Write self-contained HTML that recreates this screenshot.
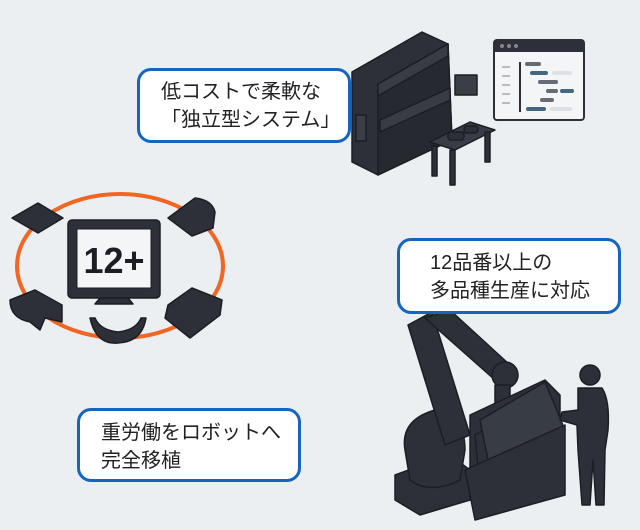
<!DOCTYPE html>
<html><head><meta charset="utf-8"><style>
html,body{margin:0;padding:0}
body{width:640px;height:530px;background:#eceff2;position:relative;overflow:hidden;font-family:"Liberation Sans","Noto Sans CJK JP",sans-serif}
.box{position:absolute;background:#fff;border:3px solid #1565c0;border-radius:14px;box-sizing:border-box;font-size:20px;color:#222;line-height:28px}
svg{position:absolute;left:0;top:0}
</style></head><body>
<svg width="640" height="530" viewBox="0 0 640 530">
<g fill="#2d3038" stroke="#1c1e24" stroke-width="1.5" stroke-linejoin="round">
<!-- machine -->
<polygon points="352,72 422,32 448,44 452,140 378,175 352,162"/>
<polygon points="378,84 448,44 452,140 378,175" fill="#262930"/>
<polygon points="378,84 448,44 448,56 378,96" fill="#383c45"/>
<polygon points="380,120 450,88 450,100 380,132" fill="#383c45"/>
<rect x="356" y="115" width="10" height="26" fill="#3a3e47"/>
<rect x="455" y="75" width="22" height="20" fill="#3a3e47"/>
<!-- table -->
<polygon points="430,142 470,122 495,130 455,150" fill="#383c45"/>
<rect x="432" y="146" width="5" height="30"/><rect x="450" y="150" width="5" height="35"/><rect x="485" y="132" width="5" height="30"/>
<rect x="448" y="132" width="16" height="8" rx="3"/><rect x="464" y="126" width="14" height="7" rx="3"/>
</g>
<!-- window -->
<rect x="494" y="40" width="90" height="80" rx="3" fill="#f4f5f7" stroke="#2d3038" stroke-width="2"/>
<rect x="494" y="40" width="90" height="12" fill="#2d3038"/>
<circle cx="502" cy="46" r="2" fill="#888"/><circle cx="509" cy="46" r="2" fill="#888"/><circle cx="516" cy="46" r="2" fill="#888"/>
<rect x="519" y="62" width="2" height="50" fill="#2d3038"/>
<g fill="#bbb"><rect x="502" y="66" width="8" height="2"/><rect x="502" y="75" width="8" height="2"/><rect x="502" y="84" width="8" height="2"/><rect x="502" y="93" width="8" height="2"/><rect x="502" y="102" width="8" height="2"/></g>
<rect x="525" y="62" width="16" height="4" rx="2" fill="#666b75"/>
<rect x="530" y="71" width="18" height="4" rx="2" fill="#44677f"/><rect x="552" y="71" width="20" height="4" rx="2" fill="#dde1e6"/>
<rect x="538" y="80" width="20" height="4" rx="2" fill="#666b75"/>
<rect x="546" y="89" width="12" height="4" rx="2" fill="#666b75"/><rect x="560" y="89" width="14" height="4" rx="2" fill="#44677f"/>
<rect x="540" y="98" width="14" height="4" rx="2" fill="#666b75"/>
<rect x="526" y="107" width="20" height="4" rx="2" fill="#44677f"/><rect x="550" y="107" width="22" height="4" rx="2" fill="#dde1e6"/>
<!-- ellipse & monitor -->
<ellipse cx="120" cy="266" rx="103" ry="72" fill="none" stroke="#f26522" stroke-width="4"/>
<g fill="#2d3038" stroke="#1c1e24" stroke-width="1.5" stroke-linejoin="round">
<rect x="68" y="220" width="92" height="78" rx="4"/>
<polygon points="100,298 128,298 133,304 95,304"/>
<polygon points="12,218 38,203 63,218 38,233"/>
<path d="M168,218 L195,198 Q212,200 215,212 L213,228 L192,236 Z"/>
<path d="M10,300 L35,290 L62,305 L62,322 L45,318 L40,330 L30,322 Q10,318 10,300Z"/>
<path d="M168,305 L192,288 L222,300 L220,315 L190,338 L165,318Z"/>
<path d="M90,318 Q96,345 118,343 Q142,342 146,318 L141,318 Q136,330 118,332 Q100,330 95,318Z"/>
</g>
<rect x="77" y="229" width="74" height="59" fill="#f4f5f7" stroke="#1c1e24"/>
<text x="114" y="273" text-anchor="middle" font-family="Liberation Sans" font-weight="bold" font-size="36" fill="#1c1e24">12+</text>
<!-- robot -->
<g fill="#2d3038" stroke="#1c1e24" stroke-width="1.5" stroke-linejoin="round">
<polygon points="395,475 450,455 470,470 470,500 420,515 395,500"/>
<path d="M405,450 Q400,420 435,410 Q465,415 465,450 L460,480 Q430,495 410,480Z"/>
<polygon points="408,325 432,312 470,435 445,445"/>
<polygon points="425,318 450,310 510,365 495,380"/>
<circle cx="505" cy="375" r="13"/>
<rect x="495" y="385" width="15" height="20"/>
<polygon points="470,415 545,380 560,395 560,455 480,495 470,470"/>
<polygon points="475,435 545,395 555,408 555,455 480,490"/>
<polygon points="480,420 545,382 565,430 490,470" fill="#383c45"/>
<polygon points="465,470 565,425 565,495 475,520"/>
<!-- person -->
<circle cx="590" cy="375" r="10"/>
<path d="M578,388 L602,388 Q610,400 608,430 L605,450 L604,505 L596,505 L593,460 L590,505 L582,505 L578,450 L577,425 L560,420 L562,412 L578,410Z"/>
</g>
</svg>
<div class="box" style="left:137px;top:68px;width:214px;height:75px;padding:7px 0 0 21px">低コストで柔軟な<br>「独立型システム」</div>
<div class="box" style="left:397px;top:238px;width:224px;height:76px;padding:8px 0 0 30px">12品番以上の<br>多品種生産に対応</div>
<div class="box" style="left:77px;top:408px;width:224px;height:74px;padding:8px 0 0 21px">重労働をロボットへ<br>完全移植</div>
</body></html>
